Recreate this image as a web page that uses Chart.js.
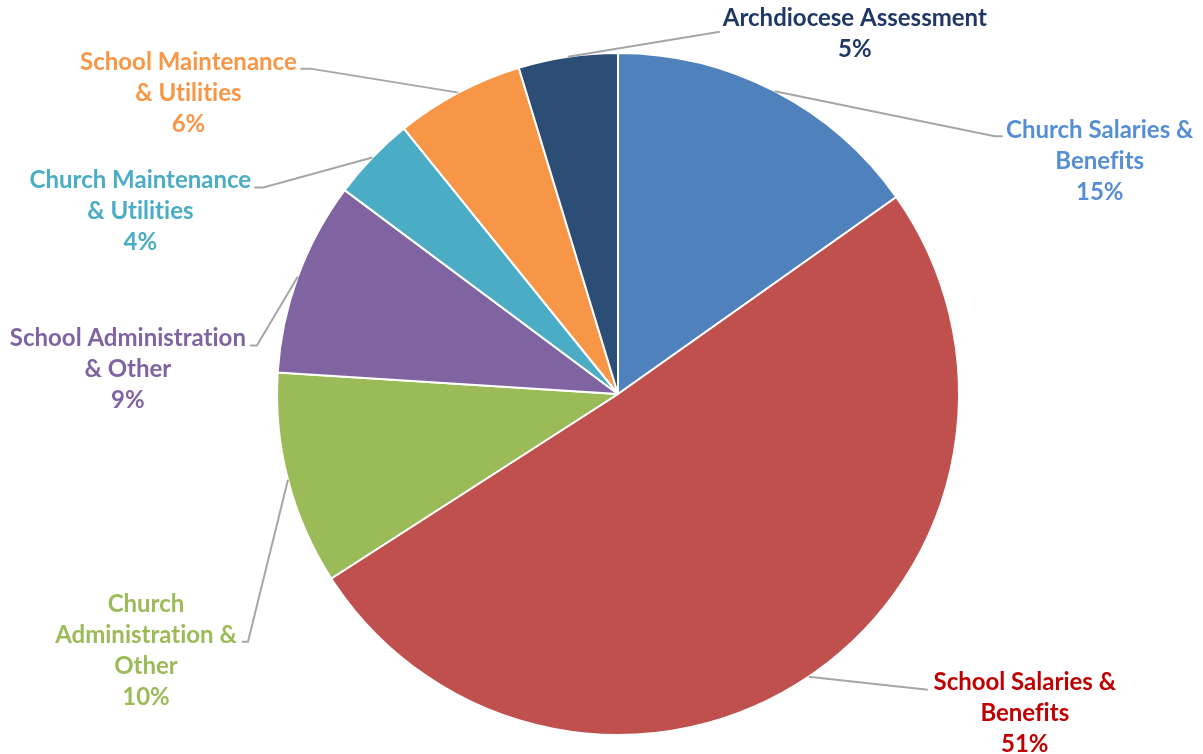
<!DOCTYPE html>
<html>
<head>
<meta charset="utf-8">
<script src="https://cdn.jsdelivr.net/npm/chart.js@4.4.1/dist/chart.umd.min.js"></script>
<style>
  html, body { margin: 0; padding: 0; background: #fff; }
  #wrap { width: 1203px; height: 754px; }
</style>
</head>
<body>
<div id="wrap"><canvas id="myChart" width="1203" height="754"></canvas></div>
<script>
'use strict';
// categories (wrapped like the original labels)
let categories = [
  ['Church Salaries &', 'Benefits'],
  ['School Salaries &', 'Benefits'],
  ['Church', 'Administration &', 'Other'],
  ['School Administration', '& Other'],
  ['Church Maintenance', '& Utilities'],
  ['School Maintenance', '& Utilities'],
  ['Archdiocese Assessment']
];
// share of budget
let shares = [15.2, 50.7, 10.1, 9.2, 4.0, 6.1, 4.7];
let pctLabels = ['15%', '51%', '10%', '9%', '4%', '6%', '5%'];

let sliceColors = ['#4F81BD', '#C0504D', '#9BBB59', '#8064A2', '#4BACC6', '#F79646', '#2C4D75'];
let textColors = ['#558ED5', '#C00000', '#9BBB59', '#8064A2', '#4BACC6', '#F79646', '#1F3864'];

// leader line layout, offsets from the slice edge midpoint
// elbow = where line meets the tail, tail = short horizontal bit, text = centre of first text line
let labelLayout = [
  { elbow: [220, 45], tail: 8, text: [325, 39] },
  { elbow: [119, 13], tail: 0, text: [216, 6] },
  { elbow: [-40, 162], tail: -6, text: [-142, 124] },
  { elbow: [-41, 69], tail: -7, text: [-170, 62] },
  { elbow: [-109, 30], tail: -9, text: [-232, 23] },
  { elbow: [-148, -24], tail: -10, text: [-270, -30] },
  { elbow: [152, -25], tail: 0, text: [287, -38] }
];

const leaderLabels = {
  id: 'leaderLabels',
  afterDraw(chart) {
    let ctx = chart.ctx;
    let arcs = chart.getDatasetMeta(0).data;
    ctx.save();
    ctx.textRendering = 'optimizeSpeed'; // no "ti" ligature
    for (let i = 0; i < arcs.length; i++) {
      let arc = arcs[i];
      let mid = (arc.startAngle + arc.endAngle) / 2;
      let ex = arc.x + Math.cos(mid) * arc.outerRadius;
      let ey = arc.y + Math.sin(mid) * arc.outerRadius;
      let lay = labelLayout[i];
      let bx = ex + lay.elbow[0];
      let by = ey + lay.elbow[1];

      ctx.strokeStyle = '#A6A6A6';
      ctx.lineWidth = 2;
      ctx.beginPath();
      ctx.moveTo(ex, ey);
      ctx.lineTo(bx, by);
      ctx.lineTo(bx + lay.tail, by);
      ctx.stroke();

      let lines = categories[i].concat([pctLabels[i]]);
      ctx.fillStyle = textColors[i];
      ctx.font = 'bold 24px Lato';
      ctx.textAlign = 'center';
      ctx.textBaseline = 'middle';
      let tx = ex + lay.text[0];
      let ty = ey + lay.text[1];
      for (let j = 0; j < lines.length; j++) {
        ctx.fillText(lines[j], tx, ty + j * 31);
      }
    }
    ctx.restore();
  }
};

let ctx = document.getElementById('myChart').getContext('2d');
let chart = new Chart(ctx, {
  type: 'pie',
  data: {
    labels: categories,
    datasets: [{
      data: shares,
      backgroundColor: sliceColors,
      borderColor: '#FFFFFF',
      borderWidth: 2
    }]
  },
  options: {
    responsive: false,
    animation: false,
    devicePixelRatio: 1,
    layout: { padding: { left: 276, right: 243, top: 52, bottom: 18 } },
    plugins: {
      legend: { display: false },
      tooltip: { enabled: false }
    }
  },
  plugins: [leaderLabels]
});
</script>
</body>
</html>
